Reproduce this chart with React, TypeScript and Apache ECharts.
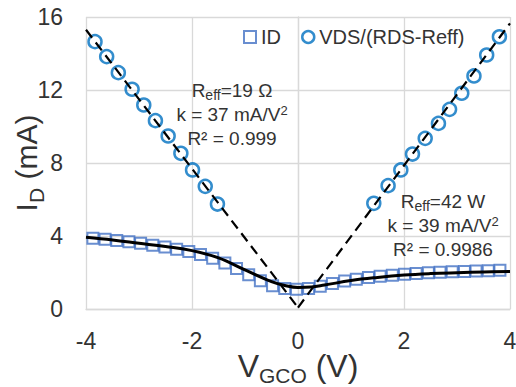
import React, { useEffect, useRef } from "react";
import * as echarts from "echarts";

const FONT = "'Liberation Sans', Arial, sans-serif";
const TEXT = "#333333";

// Axis ranges
const X_MIN = -4;
const X_MAX = 4;
const X_STEP = 2;
const Y_MIN = 0;
const Y_MAX = 16;
const Y_STEP = 4;

// ID (squares)
const idX = [
  -3.87, -3.64, -3.42, -3.19, -2.97, -2.74, -2.51, -2.29, -2.06, -1.84, -1.61, -1.38,
  -1.16, -0.93, -0.71, -0.48, -0.25, -0.03, 0.2, 0.42, 0.65, 0.88, 1.1, 1.33, 1.55,
  1.78, 2.01, 2.23, 2.46, 2.68, 2.91, 3.14, 3.36, 3.59, 3.81,
];
const idY = [
  3.87, 3.82, 3.76, 3.68, 3.6, 3.5, 3.4, 3.28, 3.15, 2.98, 2.78, 2.52, 2.22, 1.88, 1.55,
  1.28, 1.13, 1.08, 1.13, 1.25, 1.4, 1.53, 1.63, 1.72, 1.79, 1.85, 1.9, 1.94, 1.98, 2.01,
  2.04, 2.06, 2.08, 2.1, 2.12,
];

// VDS/(RDS-Reff) (circles)
const cX = [
  -3.83, -3.61, -3.39, -3.13, -2.91, -2.69, -2.45, -2.21, -1.99, -1.75, -1.52,
  1.43, 1.7, 1.94, 2.16, 2.4, 2.65, 2.86, 3.09, 3.32, 3.56, 3.8,
];
const cY = [
  14.65, 13.83, 12.95, 12.04, 11.18, 10.32, 9.48, 8.53, 7.62, 6.72, 5.75,
  5.79, 6.76, 7.62, 8.49, 9.35, 10.17, 10.94, 11.82, 12.77, 13.92, 14.92,
];

// Solid fit curve
const fitX = [-4, -3.5, -3, -2.5, -2, -1.5, -1, -0.5, -0.25, 0, 0.25, 0.5, 1, 1.5, 2, 2.5, 3, 3.5, 4];
const fitY = [3.93, 3.78, 3.6, 3.42, 3.2, 2.8, 2.14, 1.5, 1.29, 1.18, 1.2, 1.31, 1.56, 1.73, 1.86, 1.94, 1.99, 2.03, 2.06];

// Dashed linear fits
const dashLX = [-4, 0];
const dashLY = [15.3, 0.08];
const dashRX = [0, 4];
const dashRY = [0.08, 15.65];

const zip = (xs: number[], ys: number[]) => xs.map((x, i) => [x, ys[i]]);

const noteRich = {
  r: { fontSize: 19, fontFamily: FONT, fill: TEXT, lineHeight: 24 },
  s: { fontSize: 14, fontFamily: FONT, fill: TEXT, lineHeight: 14, padding: [9, 0, 0, 0] },
  p: { fontSize: 13, fontFamily: FONT, fill: TEXT, lineHeight: 13, padding: [0, 0, 7, 0] },
};

const leftNote = "{r|R}{s|eff}{r|=19 Ω}\n{r|k = 37 mA/V}{p|2}\n{r|R² = 0.999}";
const rightNote = "{r|R}{s|eff}{r|=42 W}\n{r|k = 39 mA/V}{p|2}\n{r|R² = 0.9986}";

export default function App() {
  const ref = useRef<HTMLDivElement>(null);
  useEffect(() => {
    document.body.style.margin = "0";
    if (!ref.current) return;
    const chart = echarts.init(ref.current, null, { renderer: "svg" });
    const axisLine = { show: true, lineStyle: { color: "#d9d9d9", width: 1.3 } };
    const splitLine = { show: true, lineStyle: { color: "#d9d9d9", width: 1.3 } };
    chart.setOption({
      animation: false,
      backgroundColor: "#ffffff",
      textStyle: { fontFamily: FONT },
      grid: { left: 86, right: 6, top: 17, bottom: 78, containLabel: false, outerBoundsMode: "none" },
      legend: {
        left: 243,
        top: 27,
        padding: 0,
        itemWidth: 12,
        itemHeight: 12,
        itemGap: 20,
        selectedMode: false,
        textStyle: { fontSize: 20, color: TEXT, fontFamily: FONT },
        data: [
          { name: "ID", icon: "rect", itemStyle: { color: "rgba(0,0,0,0)", borderColor: "#4472C4", borderWidth: 2 } },
          { name: "VDS/(RDS-Reff)", icon: "circle", itemStyle: { color: "rgba(0,0,0,0)", borderColor: "#0070C0", borderWidth: 2.5 } },
        ],
      },
      xAxis: {
        type: "value",
        min: X_MIN,
        max: X_MAX,
        interval: X_STEP,
        axisLine,
        axisTick: { show: false },
        splitLine,
        axisLabel: { fontSize: 23, color: TEXT, margin: 20, fontFamily: FONT },
        name: "{m|V}{s|GCO}{m| (V)}",
        nameLocation: "middle",
        nameGap: 41,
        nameMoveOverlap: false,
        nameTextStyle: {
          rich: {
            m: { fontSize: 32, fontFamily: FONT, color: TEXT, lineHeight: 32, verticalAlign: "top" },
            s: { fontSize: 21, fontFamily: FONT, color: TEXT, lineHeight: 21, padding: [15, 0, 0, 0], verticalAlign: "top" },
          },
        },
      },
      yAxis: {
        type: "value",
        min: Y_MIN,
        max: Y_MAX,
        interval: Y_STEP,
        axisLine,
        axisTick: { show: false },
        splitLine,
        axisLabel: { fontSize: 23, color: TEXT, margin: 23, fontFamily: FONT },
        name: "{m|I}{s|D}{m| (mA)}",
        nameLocation: "middle",
        nameGap: 45,
        nameMoveOverlap: false,
        nameTextStyle: {
          rich: {
            m: { fontSize: 30, fontFamily: FONT, color: TEXT, lineHeight: 30, verticalAlign: "top" },
            s: { fontSize: 21, fontFamily: FONT, color: TEXT, lineHeight: 21, padding: [15, 0, 0, 0], verticalAlign: "top" },
          },
        },
      },
      series: [
        {
          name: "ID",
          type: "scatter",
          data: zip(idX, idY),
          symbol: "rect",
          symbolSize: 11,
          silent: true,
          itemStyle: { color: "rgba(0,0,0,0)", borderColor: "#4472C4", borderWidth: 2 },
          z: 2,
        },
        {
          name: "VDS/(RDS-Reff)",
          type: "scatter",
          data: zip(cX, cY),
          symbol: "circle",
          symbolSize: 13,
          silent: true,
          itemStyle: { color: "rgba(0,0,0,0)", borderColor: "#0070C0", borderWidth: 2.5 },
          z: 2,
        },
        {
          name: "fit",
          type: "line",
          data: zip(fitX, fitY),
          smooth: 0.4,
          symbol: "none",
          silent: true,
          lineStyle: { color: "#000000", width: 3 },
          z: 3,
        },
        {
          name: "linL",
          type: "line",
          data: zip(dashLX, dashLY),
          symbol: "none",
          silent: true,
          lineStyle: { color: "#000000", width: 2.2, type: [10, 6] },
          z: 3,
        },
        {
          name: "linR",
          type: "line",
          data: zip(dashRX, dashRY),
          symbol: "none",
          silent: true,
          lineStyle: { color: "#000000", width: 2.2, type: [10, 6] },
          z: 3,
        },
      ],
      graphic: [
        {
          type: "text",
          x: 232,
          y: 114,
          z: 100,
          style: { text: leftNote, rich: noteRich, align: "center", verticalAlign: "middle", fontSize: 19, fontFamily: FONT, fill: TEXT },
        },
        {
          type: "text",
          x: 443,
          y: 225,
          z: 100,
          style: { text: rightNote, rich: noteRich, align: "center", verticalAlign: "middle", fontSize: 19, fontFamily: FONT, fill: TEXT },
        },
      ],
    });
    return () => chart.dispose();
  }, []);
  return <div ref={ref} style={{ position: "absolute", left: 0, top: 0, width: 516, height: 387 }} />;
}
